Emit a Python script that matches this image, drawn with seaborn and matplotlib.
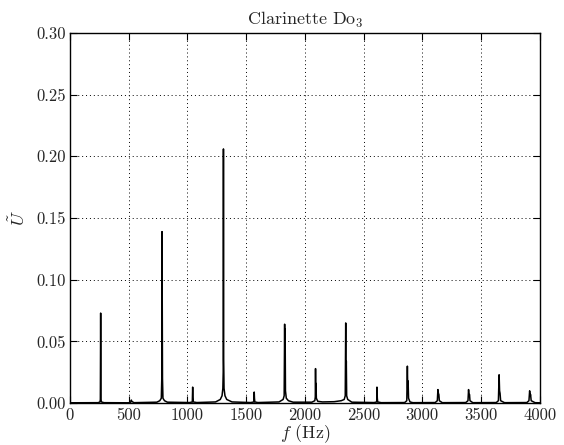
import numpy as np
import pandas as pd
import matplotlib
matplotlib.use("Agg")
import matplotlib.pyplot as plt
import seaborn as sns

# spectrum trace (Hz, amplitude)
freq_hz = [
    0, 240, 256, 259, 261.6, 264, 268, 290,
    500, 518, 521, 523, 526, 545,
    740, 765, 778, 782, 784, 786, 788, 792, 805, 830,
    1020, 1042, 1045, 1047, 1050, 1080,
    1240, 1280, 1295, 1302, 1305, 1307, 1309, 1312, 1320, 1335, 1380,
    1540, 1566, 1569, 1571, 1574, 1600,
    1780, 1815, 1824, 1828, 1830, 1832, 1835, 1842, 1860, 1900,
    2060, 2085, 2089, 2091, 2093, 2095, 2098, 2110,
    2150, 2250, 2310,
    2335, 2344, 2348, 2350, 2353, 2356, 2365, 2400,
    2590, 2612, 2614, 2617, 2620, 2650,
    2850, 2868, 2873, 2876, 2879, 2883, 2895, 2920,
    3110, 3128, 3133, 3137, 3141, 3145, 3170,
    3370, 3389, 3394, 3398, 3402, 3406, 3430,
    3630, 3648, 3654, 3658, 3662, 3667, 3700,
    3890, 3908, 3914, 3918, 3922, 3927, 3960, 4000,
]
amplitude = [
    0.0003, 0.0004, 0.001, 0.003, 0.073, 0.003, 0.001, 0.0004,
    0.0003, 0.0008, 0.002, 0.0025, 0.0015, 0.0004,
    0.0008, 0.002, 0.004, 0.02, 0.139, 0.078, 0.02, 0.004, 0.002, 0.0008,
    0.0005, 0.001, 0.013, 0.005, 0.001, 0.0005,
    0.001, 0.003, 0.006, 0.012, 0.025, 0.206, 0.035, 0.012, 0.006, 0.003, 0.001,
    0.0005, 0.001, 0.009, 0.004, 0.001, 0.0005,
    0.001, 0.003, 0.006, 0.064, 0.030, 0.060, 0.010, 0.004, 0.002, 0.0008,
    0.0008, 0.002, 0.005, 0.028, 0.010, 0.016, 0.004, 0.0015,
    0.001, 0.0012, 0.002,
    0.003, 0.006, 0.065, 0.020, 0.034, 0.006, 0.003, 0.0008,
    0.0005, 0.001, 0.013, 0.004, 0.001, 0.0004,
    0.0005, 0.002, 0.030, 0.012, 0.018, 0.004, 0.001, 0.0004,
    0.0005, 0.002, 0.011, 0.008, 0.007, 0.002, 0.0004,
    0.0005, 0.002, 0.011, 0.006, 0.007, 0.002, 0.0004,
    0.0005, 0.002, 0.023, 0.010, 0.008, 0.002, 0.0004,
    0.0005, 0.002, 0.010, 0.006, 0.007, 0.002, 0.0004, 0.0003,
]
x_ticks = [0, 500, 1000, 1500, 2000, 2500, 3000, 3500, 4000]
y_ticks = [0.00, 0.05, 0.10, 0.15, 0.20, 0.25, 0.30]

sns.set_theme(style="white")
plt.rcParams['font.family'] = 'serif'
plt.rcParams['font.serif'] = ['cmr10']
plt.rcParams['mathtext.fontset'] = 'cm'
plt.rcParams['axes.unicode_minus'] = False
plt.rcParams['axes.formatter.use_mathtext'] = True

df = pd.DataFrame({"f": freq_hz, "U": amplitude})

fig = plt.figure(figsize=(5.64, 4.45), dpi=100)
ax = fig.add_axes([0.124, 0.094, 0.833, 0.832])
sns.lineplot(data=df, x="f", y="U", color='black', linewidth=1.1,
             estimator=None, sort=False, ax=ax)

ax.set_xlim(0, 4000)
ax.set_ylim(0, 0.30)
ax.set_xticks(x_ticks)
ax.set_yticks(y_ticks)
ax.set_xticklabels([str(t) for t in x_ticks], fontsize=12)
ax.set_yticklabels([f"{t:.2f}" for t in y_ticks], fontsize=12)
ax.tick_params(direction='in', length=5, width=0.8, color='black',
               top=True, right=True, bottom=True, left=True, pad=3)
ax.grid(True, color='black', linestyle=(0, (1, 3)), linewidth=0.7)
for s in ax.spines.values():
    s.set_color('black')
    s.set_linewidth(1.0)

ax.set_title(r"Clarinette Do$_3$", fontsize=13, pad=6)
ax.set_xlabel(r"$f$ (Hz)", fontsize=13, labelpad=0)
ax.set_ylabel(r"$\tilde{U}$", fontsize=13, labelpad=6)

fig.savefig("out.png", dpi=100, facecolor='white')
